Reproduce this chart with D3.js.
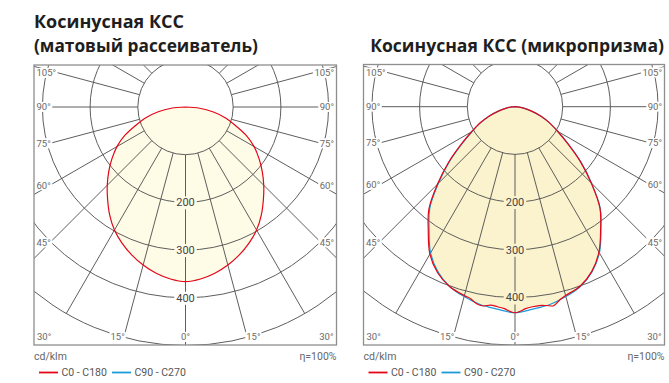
<!DOCTYPE html>
<html><head><meta charset="utf-8">
<script src="https://cdn.jsdelivr.net/npm/d3@7"></script>
<style>
body{margin:0;background:#fff;}
svg{display:block;}
</style></head><body>
<svg id="chart" width="669" height="383"></svg>
<script>
// ---------- data ----------
const titlesMatte = ["Косинусная КСС", "(матовый рассеиватель)"];
const titlesPrism = ["Косинусная КСС (микропризма)"];
const seriesNames = ["C0 - C180", "C90 - C270"];
const seriesColors = ["#e30619", "#1b9bd7"];
const unitLabel = "cd/klm";
const effLabel = "η=100%";

const gridAngles = [0, 15, 30, 45, 60, 75, 90, 105, 120, 135, 150, 165, 180];
const ringValues = [100, 200, 300, 400, 500];
const ringLabelValues = [200, 300, 400];
const sideAngleLabels = [105, 90, 75, 60, 45];
const bottomAngleLabels = [30, 15, 0];

// matte diffuser (symmetric, 0..90 deg every 5 deg), cd/klm
const matteAngles = [0,5,10,15,20,25,30,35,40,45,50,55,60,65,70,75,80,85,90];
const matteC0  = [366,362,354,343,330,315,298,277,254,232,210,188,166,140,110,85,58,30,0];
const matteC90 = [366,362,354,343,330,315,298,277,254,232,210,188,166,140,110,85,58,30,0];

// microprism
const prismAngles = [0,5,10,15,20,25,30,35,40,45,50,55,60,65,70,75,80,85,90];
const prismC90 = [432,426,421,412,401,382,354,314,278,227,180,136,104,80,58,36,20,9,0];
const prismC0Angles = [-90,-85,-80,-75,-70,-65,-60,-55,-50,-45,-40,-35,-30,-25,-20,-15,-13,-11,-9,-7,-5,-3,-1.5,0,
                       1.5,3,5,7,9,11,13,15,20,25,30,35,40,45,50,55,60,65,70,75,80,85,90];
const prismC0 = [0,9,20,36,58,81,105,138,182,230,281,317,357,384,401,410,413,421,423,419,421,424,429,432,
                 429,424,421,420,422,425,416,410,400,381,352,313,277,226,179,135,103,80,58,36,20,9,0];

// ---------- drawing ----------
const svg = d3.select("#chart");
const toRad = a => a * Math.PI / 180;

function mirror(angles, vals) {
  const pts = [];
  angles.forEach((a, i) => { if (a !== 0) pts.push({a: -a, v: vals[i]}); });
  angles.forEach((a, i) => pts.push({a: a, v: vals[i]}));
  return pts.sort((p, q) => p.a - q.a);
}
function direct(angles, vals) { return angles.map((a, i) => ({a, v: vals[i]})); }

function drawChart(cfg) {
  const {id, cx, cy, left, right, top, bottom, fill, c0, c90, showC90} = cfg;
  const g = svg.append("g");
  const r = d3.scaleLinear().domain([0, 100]).range([0, 47.7]);

  const defs = svg.append("defs");
  defs.append("clipPath").attr("id", id + "clip")
    .append("rect").attr("x", left).attr("y", top).attr("width", right - left).attr("height", bottom - top);
  const mask = defs.append("mask").attr("id", id + "mask").attr("maskUnits", "userSpaceOnUse")
    .attr("maskContentUnits", "userSpaceOnUse")
    .attr("x", 0).attr("y", 0).attr("width", 669).attr("height", 383);
  mask.append("rect").attr("x", left).attr("y", top).attr("width", right - left).attr("height", bottom - top).attr("fill", "#fff");

  const plot = g.append("g").attr("clip-path", `url(#${id}clip)`);
  const radial = d3.lineRadial()
    .angle(d => Math.PI - toRad(d.a))
    .radius(d => r(d.v))
    .curve(d3.curveCatmullRom.alpha(0.5));

  // fill
  plot.append("path")
    .attr("transform", `translate(${cx},${cy})`)
    .attr("d", radial(c0) + "Z")
    .attr("fill", fill).attr("stroke", "none");

  // grid (mask applied on untransformed wrapper)
  const gridWrap = plot.append("g").attr("mask", `url(#${id}mask)`);
  const grid = gridWrap.append("g")
    .attr("transform", `translate(${cx},${cy})`)
    .attr("stroke", "#555").attr("stroke-width", 0.95).attr("fill", "none");
  const rMin = r(ringValues[0]), rMax = r(ringValues[ringValues.length - 1]);
  const spokes = [];
  gridAngles.forEach(a => { spokes.push(a); if (a !== 0 && a !== 180) spokes.push(-a); });
  grid.selectAll("line.spoke").data(spokes).join("line").attr("class", "spoke")
    .attr("x1", a => rMin * Math.sin(toRad(a))).attr("y1", a => rMin * Math.cos(toRad(a)))
    .attr("x2", a => rMax * Math.sin(toRad(a))).attr("y2", a => rMax * Math.cos(toRad(a)));
  grid.selectAll("circle.ring").data(ringValues).join("circle").attr("class", "ring")
    .attr("r", v => r(v));

  // curves
  const curves = plot.append("g").attr("transform", `translate(${cx},${cy})`).attr("fill", "none")
    .attr("stroke-width", 1.2);
  if (showC90) curves.append("path").attr("d", radial(c90)).attr("stroke", seriesColors[1]);
  curves.append("path").attr("d", radial(c0)).attr("stroke", seriesColors[0]);

  // frame
  g.append("rect").attr("x", left).attr("y", top).attr("width", right - left).attr("height", bottom - top)
    .attr("fill", "none").attr("stroke", "#8e8e8e").attr("stroke-width", 1.3);

  const labels = g.append("g").attr("font-family", "Roboto, sans-serif");
  const addMask = (node, padX, padY, extendTo) => {
    const b = node.getBBox();
    let x0 = b.x - padX, x1 = b.x + b.width + padX;
    if (extendTo === "left") x0 = left;
    if (extendTo === "right") x1 = right;
    mask.append("rect").attr("x", x0).attr("y", b.y - padY + 1).attr("width", x1 - x0)
      .attr("height", b.height + 2 * padY - 2).attr("fill", "#000");
  };

  // ring labels
  ringLabelValues.forEach(v => {
    const t = labels.append("text").attr("x", cx).attr("y", cy + r(v)).attr("dy", "0.36em")
      .attr("text-anchor", "middle").attr("font-size", 11).attr("fill", "#444").text(v);
    addMask(t.node(), 2, 1);
  });

  // side angle labels
  const dEdge = 135.5;
  const lblColor = "#6a6a6a";
  sideAngleLabels.forEach(a => {
    let y = Math.abs(a - 90) < 1e-6 ? cy : cy + dEdge / Math.tan(toRad(a));
    y = Math.max(y, top + 8);
    const tl = labels.append("text").attr("x", left + 2.5).attr("y", y).attr("dy", "0.36em")
      .attr("font-size", 9.5).attr("fill", lblColor).text(a + "°");
    addMask(tl.node(), 1.5, 0.5, "left");
    const tr = labels.append("text").attr("x", right - 2.5).attr("y", y).attr("dy", "0.36em")
      .attr("text-anchor", "end").attr("font-size", 9.5).attr("fill", lblColor).text(a + "°");
    addMask(tr.node(), 1.5, 0.5, "right");
  });

  // bottom angle labels
  const yb = bottom - 8;
  bottomAngleLabels.forEach(a => {
    if (a === 30) {
      labels.append("text").attr("x", left + 3).attr("y", yb).attr("dy", "0.36em")
        .attr("font-size", 9.5).attr("fill", lblColor).text(a + "°");
      labels.append("text").attr("x", right - 3).attr("y", yb).attr("dy", "0.36em").attr("text-anchor", "end")
        .attr("font-size", 9.5).attr("fill", lblColor).text(a + "°");
    } else if (a === 0) {
      const t = labels.append("text").attr("x", cx).attr("y", yb).attr("dy", "0.36em").attr("text-anchor", "middle")
        .attr("font-size", 9.5).attr("fill", lblColor).text(a + "°");
      addMask(t.node(), 1, 0.5);
    } else {
      const xo = rMax * Math.sin(toRad(a));
      const t1 = labels.append("text").attr("x", cx - xo + 1).attr("y", yb).attr("dy", "0.36em").attr("text-anchor", "end")
        .attr("font-size", 9.5).attr("fill", lblColor).text(a + "°");
      addMask(t1.node(), 1, 0.5);
      const t2 = labels.append("text").attr("x", cx + xo - 1).attr("y", yb).attr("dy", "0.36em").attr("text-anchor", "start")
        .attr("font-size", 9.5).attr("fill", lblColor).text(a + "°");
      addMask(t2.node(), 1, 0.5);
    }
  });

  // footer
  labels.append("text").attr("x", left).attr("y", 360).attr("font-size", 10.5).attr("fill", "#666").text(unitLabel);
  labels.append("text").attr("x", right).attr("y", 360).attr("text-anchor", "end").attr("font-size", 10.5).attr("fill", "#666").text(effLabel);
  const legend = labels.append("g");
  const lx = [left + 5, left + 78];
  seriesNames.forEach((n, i) => {
    legend.append("line").attr("x1", lx[i]).attr("x2", lx[i] + 19).attr("y1", 372.5).attr("y2", 372.5)
      .attr("stroke", seriesColors[i]).attr("stroke-width", 1.8);
    legend.append("text").attr("x", lx[i] + 22.5).attr("y", 376.3).attr("font-size", 10.5).attr("fill", "#555").text(n);
  });
}

drawChart({id: "m", cx: 185.5, cy: 107, left: 34, right: 336.5, top: 65, bottom: 345,
  fill: "#fefbe6", c0: mirror(matteAngles, matteC0), c90: mirror(matteAngles, matteC90), showC90: false});
drawChart({id: "p", cx: 515, cy: 106.7, left: 363.5, right: 664.5, top: 64.5, bottom: 345,
  fill: "#fbf3cd", c0: direct(prismC0Angles, prismC0), c90: mirror(prismAngles, prismC90), showC90: true});

// titles: pick one font size that fits the widest title, then fit the rest
const tg = svg.append("g").attr("font-family", "'Open Sans', sans-serif").attr("font-weight", 700)
  .attr("fill", "#1e1e1e");
const titleSpecs = [
  {text: titlesMatte[0], x: 34, y: 28.3, w: 150, anchor: "start"},
  {text: titlesMatte[1], x: 34, y: 51.7, w: 224, anchor: "start"},
  {text: titlesPrism[0], x: 664, y: 52.3, w: 294, anchor: "end"}
];
titleSpecs.forEach(s => {
  const t = tg.append("text").attr("x", s.x).attr("y", s.y).attr("font-size", 18)
    .attr("text-anchor", s.anchor).text(s.text);
  const w = t.node().getComputedTextLength();
  // shrink the font when too wide, keep proportions otherwise
  if (w > s.w) {
    const fs = Math.max(16, 18 * s.w / w);
    t.attr("font-size", fs);
    const w2 = t.node().getComputedTextLength();
    if (w2 > s.w + 1) t.attr("textLength", s.w).attr("lengthAdjust", "spacingAndGlyphs");
  }
});
</script>
</body></html>
